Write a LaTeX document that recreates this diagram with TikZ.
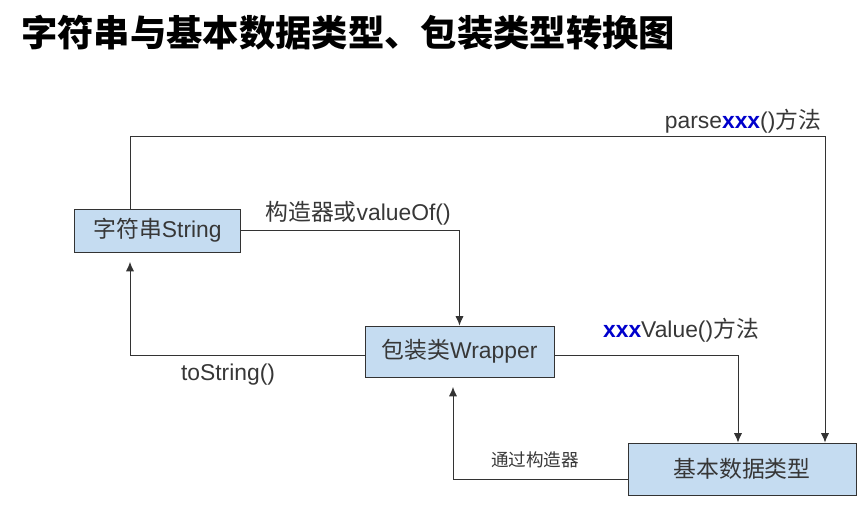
\documentclass[tikz,border=0pt]{standalone}
\usepackage{fontspec}
\setmainfont{Liberation Sans}
\newfontfamily\cjk{Noto Sans CJK SC}
\usetikzlibrary{arrows.meta, positioning}
\definecolor{boxblue}{RGB}{197,220,241}
\definecolor{linegray}{RGB}{51,51,51}
\definecolor{txtgray}{RGB}{55,55,55}
\definecolor{xxxblue}{RGB}{0,0,204}
\tikzset{
    x=0.03cm, y=-0.03cm,
    typebox/.style={
        draw=linegray,
        fill=boxblue,
        line width=0.85pt,
        inner sep=0pt,
        text=txtgray,
        font=\fontsize{19.5}{22}\selectfont
    },
    conn/.style={
        draw=linegray,
        line width=0.8pt,
        -{Latex[length=8pt,width=7pt]}
    },
    label/.style={
        text=txtgray,
        inner sep=0pt,
        font=\fontsize{19.5}{22}\selectfont
    },
    smalllabel/.style={
        text=txtgray,
        inner sep=0pt,
        font=\fontsize{15}{18}\selectfont
    }
}
\newcommand{\xxx}{\textcolor{xxxblue}{\textbf{xxx}}}

\begin{document}
\begin{tikzpicture}
    \useasboundingbox (0,0) rectangle (867,519);
    \node[anchor=west, inner sep=0pt, font=\cjk\bfseries\fontsize{31}{34}\selectfont] (title) at (21,33) {字符串与基本数据类型、包装类型转换图};

    % the three boxes
    \node[typebox, text width=4.95cm, minimum height=1.29cm, align=center] (str) at (157.5,230.5) {{\cjk 字符串}String};
    \node[typebox, text width=5.67cm, minimum height=1.53cm, align=center] (wrap) at (459.5,351.5) {{\cjk 包装类}Wrapper};
    \node[typebox, text width=6.84cm, minimum height=1.56cm, align=center] (basic) at (742,469) {\cjk 基本数据类型};

    % conversions
    \draw[conn] (str.north -| 130,0) |- (825,136) -- (basic.north -| 825,0);
    \node[label] (parse) at (743,121) {parse\xxx(){\cjk 方法}};

    \draw[conn] (str.east) -| (wrap.north);
    \node[label] (valueof) at (358,213) {{\cjk 构造器或}valueOf()};

    \draw[conn, shorten >=8pt] (wrap.west |- 0,355) -| (str.south -| 130,0);
    \node[label] (tostr) at (228,375) {toString()};

    \draw[conn] (wrap.east |- 0,355) -| (basic.north -| 738,0);
    \node[label] (xxxval) at (681,330) {\xxx Value(){\cjk 方法}};

    \draw[conn, shorten >=8pt] (basic.west |- 0,479) -| (wrap.south -| 453,0);
    \node[smalllabel] (byctor) at (535,460) {\cjk 通过构造器};
\end{tikzpicture}
\end{document}
